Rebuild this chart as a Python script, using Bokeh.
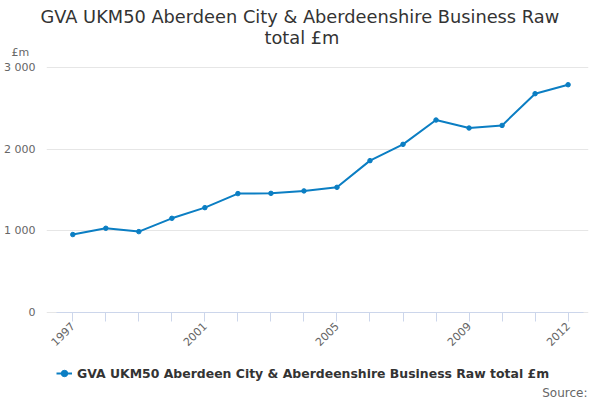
import math
from bokeh.plotting import figure
from bokeh.models import Range1d, FixedTicker, Legend, LegendItem, Title, Label
from bokeh.embed import file_html
from bokeh.resources import INLINE

# ---- data ----
years = list(range(1997, 2013))
gva = [952, 1029, 988, 1151, 1282, 1454, 1457, 1487, 1531, 1858,
       2058, 2356, 2258, 2290, 2679, 2789]
labelled_years = [1997, 2001, 2005, 2009, 2012]
y_ticks = [0, 1000, 2000, 3000]

title_lines = ["GVA UKM50 Aberdeen City & Aberdeenshire Business Raw", "total £m"]
series_name = "GVA UKM50 Aberdeen City & Aberdeenshire Business Raw total £m"
unit_label = "£m"
source_label = "Source:"

FONT = "DejaVu Sans"
LINE_COLOR = "#0b7ec3"
W, H = 600, 400
LEFT, RIGHT, TOP = 46, 12, 60

# frame runs to the bottom of the canvas; the x axis is pinned at y = 0
p = figure(width=W, height=H, output_backend="svg", toolbar_location=None,
           x_range=Range1d(years[0] - 0.7965, years[-1] + 0.6175),
           y_range=Range1d(-1082.5, 3085.8),
           min_border_left=LEFT, min_border_right=RIGHT, min_border_top=TOP,
           min_border_bottom=0)
p.title = None
p.outline_line_color = None
p.background_fill_color = "white"
p.border_fill_color = "white"

line = p.line(years, gva, line_color=LINE_COLOR, line_width=2)
pts = p.scatter(years, gva, size=4.5, marker="circle",
                fill_color=LINE_COLOR, line_color=LINE_COLOR)

xa = p.xaxis[0]
xa.fixed_location = 0
xa.bounds = (years[0] - 0.494, years[-1] + 0.473)
xa.ticker = FixedTicker(ticks=years)
xa.major_label_overrides = {y: (str(y) if y in labelled_years else "") for y in years}
xa.major_label_orientation = math.pi / 4
xa.major_label_text_font = FONT
xa.major_label_text_font_size = "11px"
xa.major_label_text_color = "#666666"
xa.axis_line_color = "#ccd6eb"
xa.major_tick_line_color = "#ccd6eb"
xa.major_tick_out = 9
xa.major_tick_in = 0
xa.minor_tick_line_color = None
xa.major_label_standoff = 3

ya = p.yaxis[0]
ya.ticker = FixedTicker(ticks=y_ticks)
ya.major_label_overrides = {v: f"{v:,}".replace(",", " ") for v in y_ticks}
ya.major_label_text_font = FONT
ya.major_label_text_font_size = "11px"
ya.major_label_text_color = "#666666"
ya.axis_line_color = None
ya.major_tick_line_color = None
ya.minor_tick_line_color = None
ya.major_label_standoff = 5

p.xgrid.grid_line_color = None
p.ygrid.grid_line_color = "#e6e6e6"
p.ygrid.grid_line_width = 1

# ---- texts above the frame (added from the frame outwards) ----
p.add_layout(Title(text=unit_label, align="left", offset=-35, standoff=3,
                   text_font=FONT, text_font_size="11px",
                   text_font_style="normal", text_color="#666666"), "above")
p.add_layout(Title(text=title_lines[1], align="left", offset=218, standoff=-11,
                   text_font=FONT, text_font_size="17.8px",
                   text_font_style="normal", text_color="#333333"), "above")
p.add_layout(Title(text=title_lines[0], align="left", offset=-6, standoff=7,
                   text_font=FONT, text_font_size="17.8px",
                   text_font_style="normal", text_color="#333333"), "above")

# ---- legend and source (inside the lower part of the frame) ----
legend = Legend(items=[LegendItem(label=series_name, renderers=[line, pts])],
                location=(10, 18.7), orientation="horizontal",
                padding=0, margin=0, spacing=0,
                glyph_width=16, glyph_height=16, label_height=16,
                label_standoff=5,
                label_text_font=FONT, label_text_font_size="12.45px",
                label_text_font_style="bold", label_text_color="#333333",
                border_line_color=None, background_fill_alpha=0)
p.add_layout(legend, "center")
p.add_layout(Label(x=W - LEFT - RIGHT - 1, y=8, x_units="screen", y_units="screen",
                   text=source_label, text_font=FONT, text_font_size="12px",
                   text_color="#666666", text_align="right",
                   text_baseline="alphabetic"))

open("out.html", "w").write(file_html(p, INLINE))
